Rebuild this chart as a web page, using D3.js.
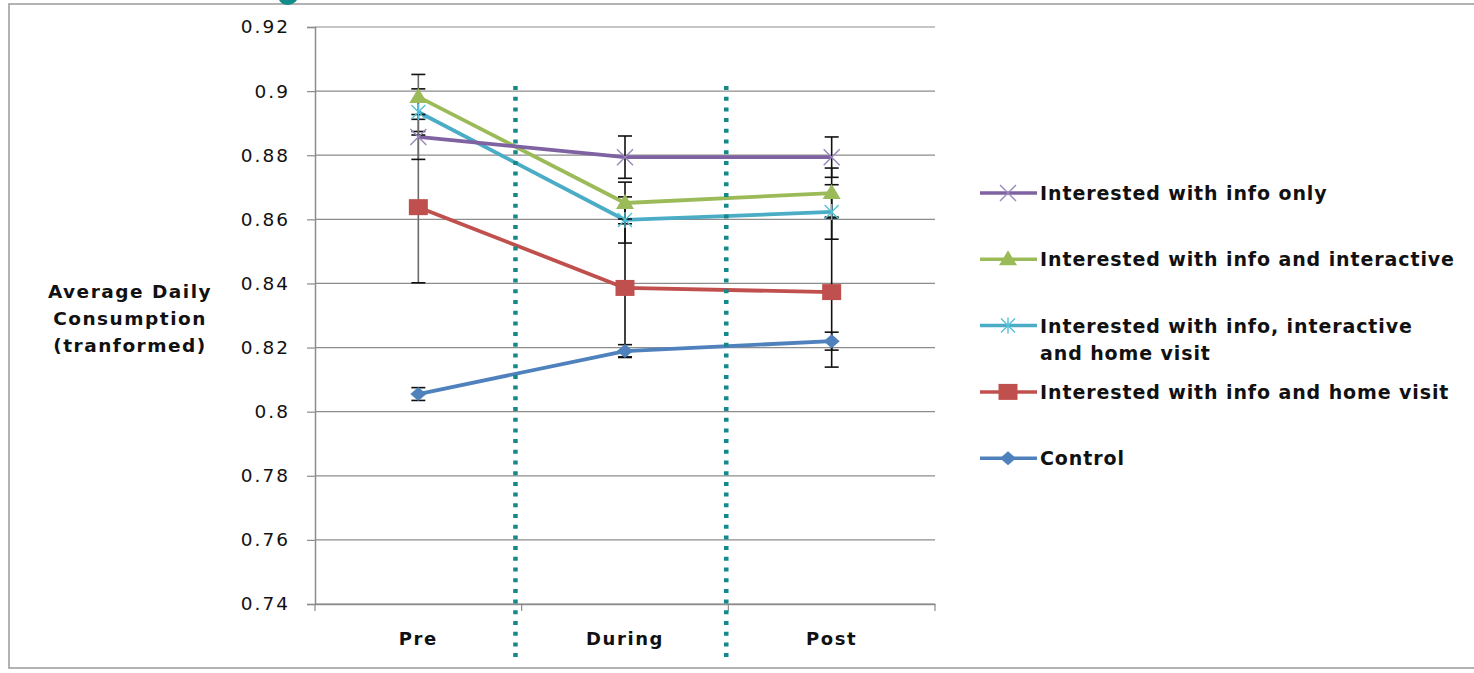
<!DOCTYPE html>
<html>
<head>
<meta charset="utf-8">
<script src="https://cdn.jsdelivr.net/npm/d3@7"></script>
<style>
  html, body { margin: 0; padding: 0; background: #fff; }
  svg { display: block; }
  text { font-family: "DejaVu Sans", sans-serif; fill: #111; }
</style>
</head>
<body>
<svg id="chart" width="1474" height="673"></svg>
<script>
// ---------- data ----------
const categories = ["Pre", "During", "Post"];
const seriesNames = [
  "Interested with info only",
  "Interested with info and interactive",
  "Interested with info, interactive|and home visit",
  "Interested with info and home visit",
  "Control"
];
const infoOnly        = [0.8857, 0.8794, 0.8794];
const infoInteractive = [0.8982, 0.8651, 0.8682];
const infoInterHome   = [0.8935, 0.8598, 0.8623];
const infoHome        = [0.8638, 0.8386, 0.8373];
const control         = [0.8055, 0.8189, 0.8220];

const errInfoOnly        = [0.0070, 0.0066, 0.0063];
const errInfoInteractive = [0.0070, 0.0065, 0.0078];
const errInfoInterHome   = [0.0072, 0.0072, 0.0085];
const errInfoHome        = [0.0236, 0.0215, 0.0234];
const errControl         = [0.0020, 0.0020, 0.0028];

const yTicks = [0.74, 0.76, 0.78, 0.80, 0.82, 0.84, 0.86, 0.88, 0.90, 0.92];
const yTickLabels = ["0.74", "0.76", "0.78", "0.8", "0.82", "0.84", "0.86", "0.88", "0.9", "0.92"];
const yTitleLines = ["Average Daily", "Consumption", "(tranformed)"];
// divider positions in category-index units (0 = Pre, 1 = During, 2 = Post)
const dividers = [0.47, 1.49];

const seriesValues = [infoOnly, infoInteractive, infoInterHome, infoHome, control];
const seriesErrors = [errInfoOnly, errInfoInteractive, errInfoInterHome, errInfoHome, errControl];
const seriesColors = ["#7F62A1", "#9BBB59", "#4BACC6", "#C0504D", "#4F81BD"];
const seriesMarkers = ["x", "triangle", "asterisk", "square", "diamond"];

// ---------- layout ----------
const plot = { left: 315, right: 935, top: 27, bottom: 604 };
const svg = d3.select("#chart");

// outer frame
svg.append("rect")
  .attr("x", 9).attr("y", 4).attr("width", 1500).attr("height", 664)
  .attr("fill", "#fff").attr("stroke", "#9a9a9a").attr("stroke-width", 1.5);

// fragment of a cut-off title glyph at the very top
svg.append("path")
  .attr("d", "M279,0 Q283,7 292,4 Q296,2 297,0 Z")
  .attr("fill", "#138C8C");

const y = d3.scaleLinear().domain([0.74, 0.92]).range([plot.bottom, plot.top]);
const x = d3.scaleBand().domain(categories).range([plot.left, plot.right]).padding(0);
const cx = c => x(c) + x.bandwidth() / 2;
const xIdx = d3.scaleLinear().domain([-0.5, 2.5]).range([plot.left, plot.right]);

// gridlines
svg.append("g").selectAll("line").data(yTicks).join("line")
  .attr("x1", plot.left).attr("x2", plot.right)
  .attr("y1", d => y(d)).attr("y2", d => y(d))
  .attr("stroke", "#8c8c8c").attr("stroke-width", 1.2);

// y axis
const yAxis = svg.append("g").attr("transform", `translate(${plot.left},0)`)
  .call(d3.axisLeft(y).tickValues(yTicks)
    .tickFormat((d, i) => yTickLabels[i]).tickSize(8).tickPadding(17));
yAxis.select(".domain").attr("stroke", "#8c8c8c").attr("stroke-width", 1.5);
yAxis.selectAll(".tick line").attr("stroke", "#8c8c8c").attr("stroke-width", 1.2);
yAxis.selectAll(".tick text")
  .style("font-family", "'DejaVu Sans', sans-serif").style("font-size", "18.5px")
  .style("letter-spacing", "2px").attr("fill", "#111");

// x axis
const xAxis = svg.append("g").attr("transform", `translate(0,${plot.bottom})`)
  .call(d3.axisBottom(x).tickSize(0).tickPadding(28));
xAxis.select(".domain").attr("stroke", "#8c8c8c").attr("stroke-width", 1.5);
xAxis.selectAll(".tick text")
  .style("font-family", "'DejaVu Sans', sans-serif").style("font-size", "18px")
  .style("font-weight", "bold").style("letter-spacing", "1.6px").attr("fill", "#111");
// category boundary ticks
const bounds = categories.map(c => x(c)).concat([x(categories[2]) + x.bandwidth()]);
svg.append("g").selectAll("line").data(bounds).join("line")
  .attr("x1", d => d).attr("x2", d => d)
  .attr("y1", plot.bottom).attr("y2", plot.bottom + 7)
  .attr("stroke", "#8c8c8c").attr("stroke-width", 1.2);

// y title
svg.append("text").attr("x", 130).attr("y", 298)
  .attr("text-anchor", "middle")
  .style("font-size", "18.5px").style("font-weight", "bold").style("letter-spacing", "1.5px")
  .selectAll("tspan").data(yTitleLines).join("tspan")
  .attr("x", 130).attr("dy", (d, i) => i === 0 ? 0 : 27).text(d => d);

// marker drawing
function drawMarker(g, type, color, px, py) {
  if (type === "x") {
    const s = 8;
    g.append("path").attr("d", `M${px - s},${py - s}L${px + s},${py + s}M${px - s},${py + s}L${px + s},${py - s}`)
      .attr("stroke", "#9a86bd").attr("stroke-width", 1.4).attr("fill", "none");
  } else if (type === "triangle") {
    g.append("path").attr("d", `M${px},${py - 9}L${px + 9},${py + 6}L${px - 9},${py + 6}Z`)
      .attr("fill", color);
  } else if (type === "asterisk") {
    const s = 7;
    g.append("path").attr("d", `M${px - s},${py - s}L${px + s},${py + s}M${px - s},${py + s}L${px + s},${py - s}M${px},${py - s - 1}L${px},${py + s + 1}`)
      .attr("stroke", "#55c0d8").attr("stroke-width", 1.4).attr("fill", "none");
  } else if (type === "square") {
    g.append("rect").attr("x", px - 9.5).attr("y", py - 8).attr("width", 19).attr("height", 16)
      .attr("fill", color);
  } else if (type === "diamond") {
    g.append("path").attr("d", `M${px},${py - 7}L${px + 8},${py}L${px},${py + 7}L${px - 8},${py}Z`)
      .attr("fill", color);
  }
}

const line = d3.line().x((d, i) => cx(categories[i])).y(d => y(d));
const order = [4, 3, 2, 1, 0];

// series lines
order.forEach(si => {
  svg.append("path").datum(seriesValues[si])
    .attr("d", line).attr("fill", "none")
    .attr("stroke", seriesColors[si]).attr("stroke-width", 3.8)
    .attr("stroke-linejoin", "round");
});

// error bars
const eg = svg.append("g");
order.forEach(si => {
  seriesValues[si].forEach((v, i) => {
    const px = cx(categories[i]);
    const e = seriesErrors[si][i];
    const col = i === 0 ? "#6b6b6b" : "#111";
    eg.append("line").attr("x1", px).attr("x2", px)
      .attr("y1", y(v + e)).attr("y2", y(v - e))
      .attr("stroke", col).attr("stroke-width", 1.6);
    [v + e, v - e].forEach(ev => {
      eg.append("line").attr("x1", px - 7).attr("x2", px + 7)
        .attr("y1", y(ev)).attr("y2", y(ev))
        .attr("stroke", "#111").attr("stroke-width", 1.6);
    });
  });
});

// markers
const mg = svg.append("g");
order.forEach(si => {
  seriesValues[si].forEach((v, i) => {
    drawMarker(mg, seriesMarkers[si], seriesColors[si], cx(categories[i]), y(v));
  });
});

// dividers
svg.append("g").selectAll("line").data(dividers).join("line")
  .attr("x1", d => xIdx(d)).attr("x2", d => xIdx(d))
  .attr("y1", 86).attr("y2", 660)
  .attr("stroke", "#13898A").attr("stroke-width", 4.5)
  .attr("stroke-dasharray", "4,6.7");

// legend
const legendTop = 193, legendStep = 66.3;
const lg = svg.append("g");
seriesNames.forEach((name, si) => {
  const ly = legendTop + si * legendStep;
  lg.append("line").attr("x1", 980).attr("x2", 1037).attr("y1", ly).attr("y2", ly)
    .attr("stroke", seriesColors[si]).attr("stroke-width", 3.5);
  drawMarker(lg, seriesMarkers[si], seriesColors[si], 1008, ly);
  const t = lg.append("text").attr("x", 1040).attr("y", ly + 7)
    .style("font-size", "19px").style("font-weight", "bold").style("letter-spacing", "0.9px");
  name.split("|").forEach((part, k) => {
    t.append("tspan").attr("x", 1040).attr("dy", k === 0 ? 0 : 27).text(part);
  });
});
</script>
</body>
</html>
